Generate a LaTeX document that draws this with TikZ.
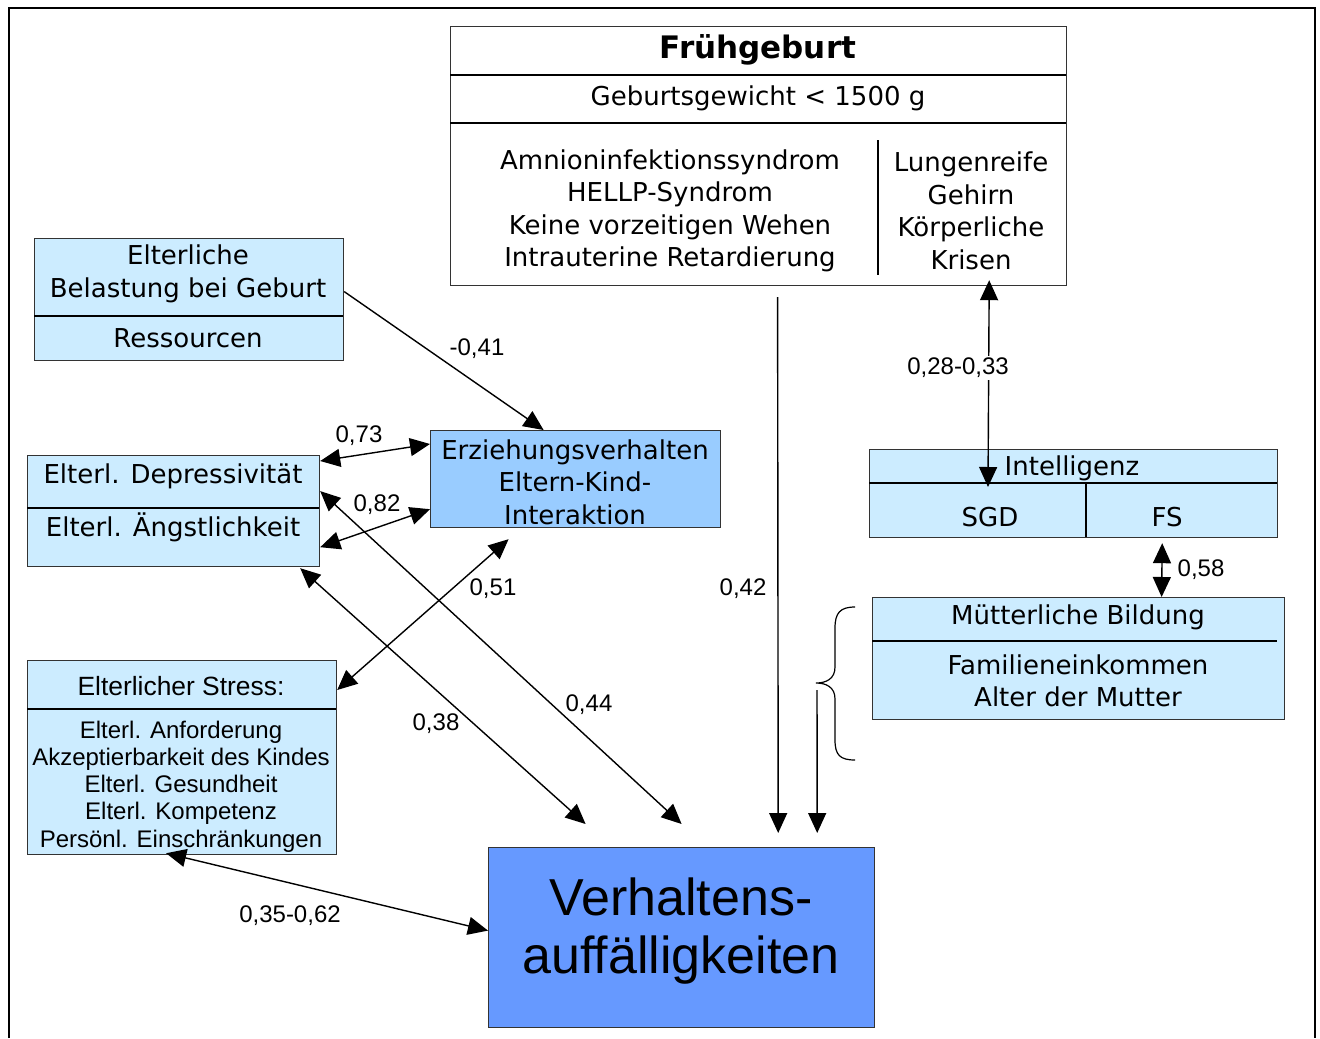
\documentclass[tikz,border=0pt]{standalone}
\usepackage{fontspec}
\setmainfont{DejaVu Sans}
\newfontfamily\arialfont{Liberation Sans}
\usepackage{tikz}
\usetikzlibrary{arrows.meta,calc}
\definecolor{paleblue}{RGB}{204, 236, 255}
\definecolor{midblue}{RGB}{153, 204, 255}
\definecolor{deepblue}{RGB}{102, 153, 255}

\begin{document}
\begin{tikzpicture}[x=0.5pt, y=-0.5pt,
  box/.style={draw=black!80, line width=0.6pt, anchor=north west, inner sep=0pt},
  vtxt/.style={font=\fontsize{13}{16.25}\selectfont, align=center, inner sep=0pt},
  atxt/.style={font=\arialfont\fontsize{12}{13.6}\selectfont, align=center, inner sep=0pt},
  lbl/.style={font=\arialfont\fontsize{12}{14}\selectfont, inner sep=1pt},
  tip/.tip={Triangle[length=10pt, width=9pt]},
  dbl/.style={tip-tip, line width=0.7pt},
  sgl/.style={-tip, line width=0.7pt}]

  \useasboundingbox (0,0) rectangle (1320,1038);

  % ── Outer frame ──────────────────────────────────────────────────────
  \draw[line width=1pt] (9,1038) -- (9,8) -- (1315,8) -- (1315,1038);

  % ── Frühgeburt ───────────────────────────────────────────────────────
  \node[box, minimum width=308pt, minimum height=129.5pt] (fg) at (450,26) {};
  \draw[line width=0.6pt] (450,75) -- (1066,75);
  \draw[line width=0.6pt] (450,123) -- (1066,123);
  \draw[line width=0.6pt] (878,140) -- (878,275);
  \node[vtxt, font=\fontsize{15.5}{18}\selectfont\bfseries] (fgtitle) at (758,50) {Frühgeburt};
  \node[vtxt] (fgweight) at (758,98) {Geburtsgewicht < 1500 g};
  \node[vtxt] (fgleft) at (670,211)
    {Amnioninfektionssyndrom\\HELLP-Syndrom\\Keine vorzeitigen Wehen\\Intrauterine Retardierung};
  \node[vtxt] (fgright) at (971,211) {Lungenreife\\Gehirn\\Körperliche\\Krisen};

  % ── Elterliche Belastung ─────────────────────────────────────────────
  \node[box, fill=paleblue, minimum width=154.5pt, minimum height=61pt] (belast) at (34,238) {};
  \draw[line width=0.6pt] (34,316) -- (343,316);
  \node[vtxt] (belasttop) at (188,274) {Elterliche\\Belastung bei Geburt};
  \node[vtxt] (belastres) at (188,338) {Ressourcen};

  % ── Depressivität / Ängstlichkeit ────────────────────────────────────
  \node[box, fill=paleblue, minimum width=146pt, minimum height=55.5pt] (dep) at (27,455) {};
  \draw[line width=0.6pt] (27,508) -- (319,508);
  \node[vtxt] (deptop) at (173,476) {Elterl. Depressivität};
  \node[vtxt] (depbot) at (173,527) {Elterl. Ängstlichkeit};

  % ── Erziehungsverhalten ──────────────────────────────────────────────
  \node[box, fill=midblue, minimum width=145pt, minimum height=48.5pt] (erz) at (430,430) {};
  \node[vtxt] (erztxt) at (575,482) {Erziehungsverhalten\\Eltern-Kind-\\Interaktion};

  % ── Elterlicher Stress ───────────────────────────────────────────────
  \node[box, fill=paleblue, minimum width=154.5pt, minimum height=97pt] (stress) at (27,660) {};
  \draw[line width=0.6pt] (27,709) -- (336,709);
  \node[atxt, font=\arialfont\fontsize{13.2}{15}\selectfont] (stresstop) at (181,686) {Elterlicher Stress:};
  \node[atxt] (stresslist) at (181,786.5)
    {Elterl. Anforderung\\Akzeptierbarkeit des Kindes\\Elterl. Gesundheit\\Elterl. Kompetenz\\Persönl. Einschränkungen};

  % ── Intelligenz ──────────────────────────────────────────────────────
  \node[box, fill=paleblue, minimum width=204pt, minimum height=44pt] (intel) at (869,449) {};
  \draw[line width=0.6pt] (869,483) -- (1277,483);
  \draw[line width=0.6pt] (1086,483) -- (1086,537);
  \node[vtxt] (inteltop) at (1072,468) {Intelligenz};
  \node[vtxt] (sgd) at (990,517) {SGD};
  \node[vtxt] (fs) at (1167,517) {FS};

  % ── Mütterliche Bildung ──────────────────────────────────────────────
  \node[box, fill=paleblue, minimum width=206pt, minimum height=61pt] (mutt) at (872,597) {};
  \draw[line width=0.6pt] (872,641) -- (1277,641);
  \node[vtxt] (mutttop) at (1078,617) {Mütterliche Bildung};
  \node[vtxt] (muttbot) at (1078,681) {Familieneinkommen\\Alter der Mutter};

  % ── Verhaltensauffälligkeiten ────────────────────────────────────────
  \node[box, fill=deepblue, minimum width=193pt, minimum height=90pt] (verh) at (488,847) {};
  \node[atxt, font=\arialfont\fontsize{26}{29}\selectfont] (verhtxt) at (681,931)
    {Verhaltens-\\auffälligkeiten};

  % ── Brace round the family variables ─────────────────────────────────
  \draw[line width=0.6pt] (855,607) .. controls (840,607) and (835,613) .. (835,628)
    -- (835,667) .. controls (835,679) and (826,683) .. (816,683)
    .. controls (826,683) and (835,687) .. (835,699)
    -- (835,740) .. controls (835,755) and (840,760) .. (855,760);
  \coordinate (bracetip) at (817,690);

  % ── Connectors ───────────────────────────────────────────────────────
  \draw[sgl] ($(belast.east)+(0,-8)$) -- ($(erz.north)+(-32,0)$);
  \draw[dbl] ($(dep.north east)+(0,6)$) -- ($(erz.north west)+(0,14)$);
  \draw[dbl] ($(dep.south east)+(0,-20)$) -- ($(erz.south west)+(0,-19)$);
  \draw[dbl] ($(stress.north east)+(0,30)$) -- ($(erz.south)+(-67,11)$);
  \draw[dbl] ($(dep.east)+(0,-20)$) -- ($(verh.north)+(0,-23)$);
  \draw[dbl] ($(dep.south east)+(-20,1)$) -- ($(verh.north)+(-96,-23)$);
  \draw[dbl] ($(stress.south)+(-16,-2)$) -- ($(verh.west)+(0,-7)$);
  \draw[sgl] ($(fg.south)+(19,11)$) -- ($(verh.north east)+(-97,-14)$);
  \draw[sgl] (bracetip) -- ($(verh.north east)+(-58,-14)$);
  \draw[dbl] ($(fg.south east)+(-78,-6)$) -- ($(intel.north west)+(119,38)$);
  \draw[dbl] ($(intel.south east)+(-116,5)$) -- ($(mutt.north)+(83,0)$);

  % ── Coefficients ─────────────────────────────────────────────────────
  \node[lbl] (c041) at (477,349) {-0,41};
  \node[lbl] (c073) at (359,436) {0,73};
  \node[lbl] (c082) at (377,505) {0,82};
  \node[lbl] (c051) at (493,589) {0,51};
  \node[lbl] (c044) at (589,705) {0,44};
  \node[lbl] (c038) at (436,724) {0,38};
  \node[lbl] (c035) at (290,916) {0,35-0,62};
  \node[lbl] (c042) at (743,589) {0,42};
  \node[lbl, fill=white] (c028) at (958,368) {0,28-0,33};
  \node[lbl] (c058) at (1201,570) {0,58};

\end{tikzpicture}
\end{document}
